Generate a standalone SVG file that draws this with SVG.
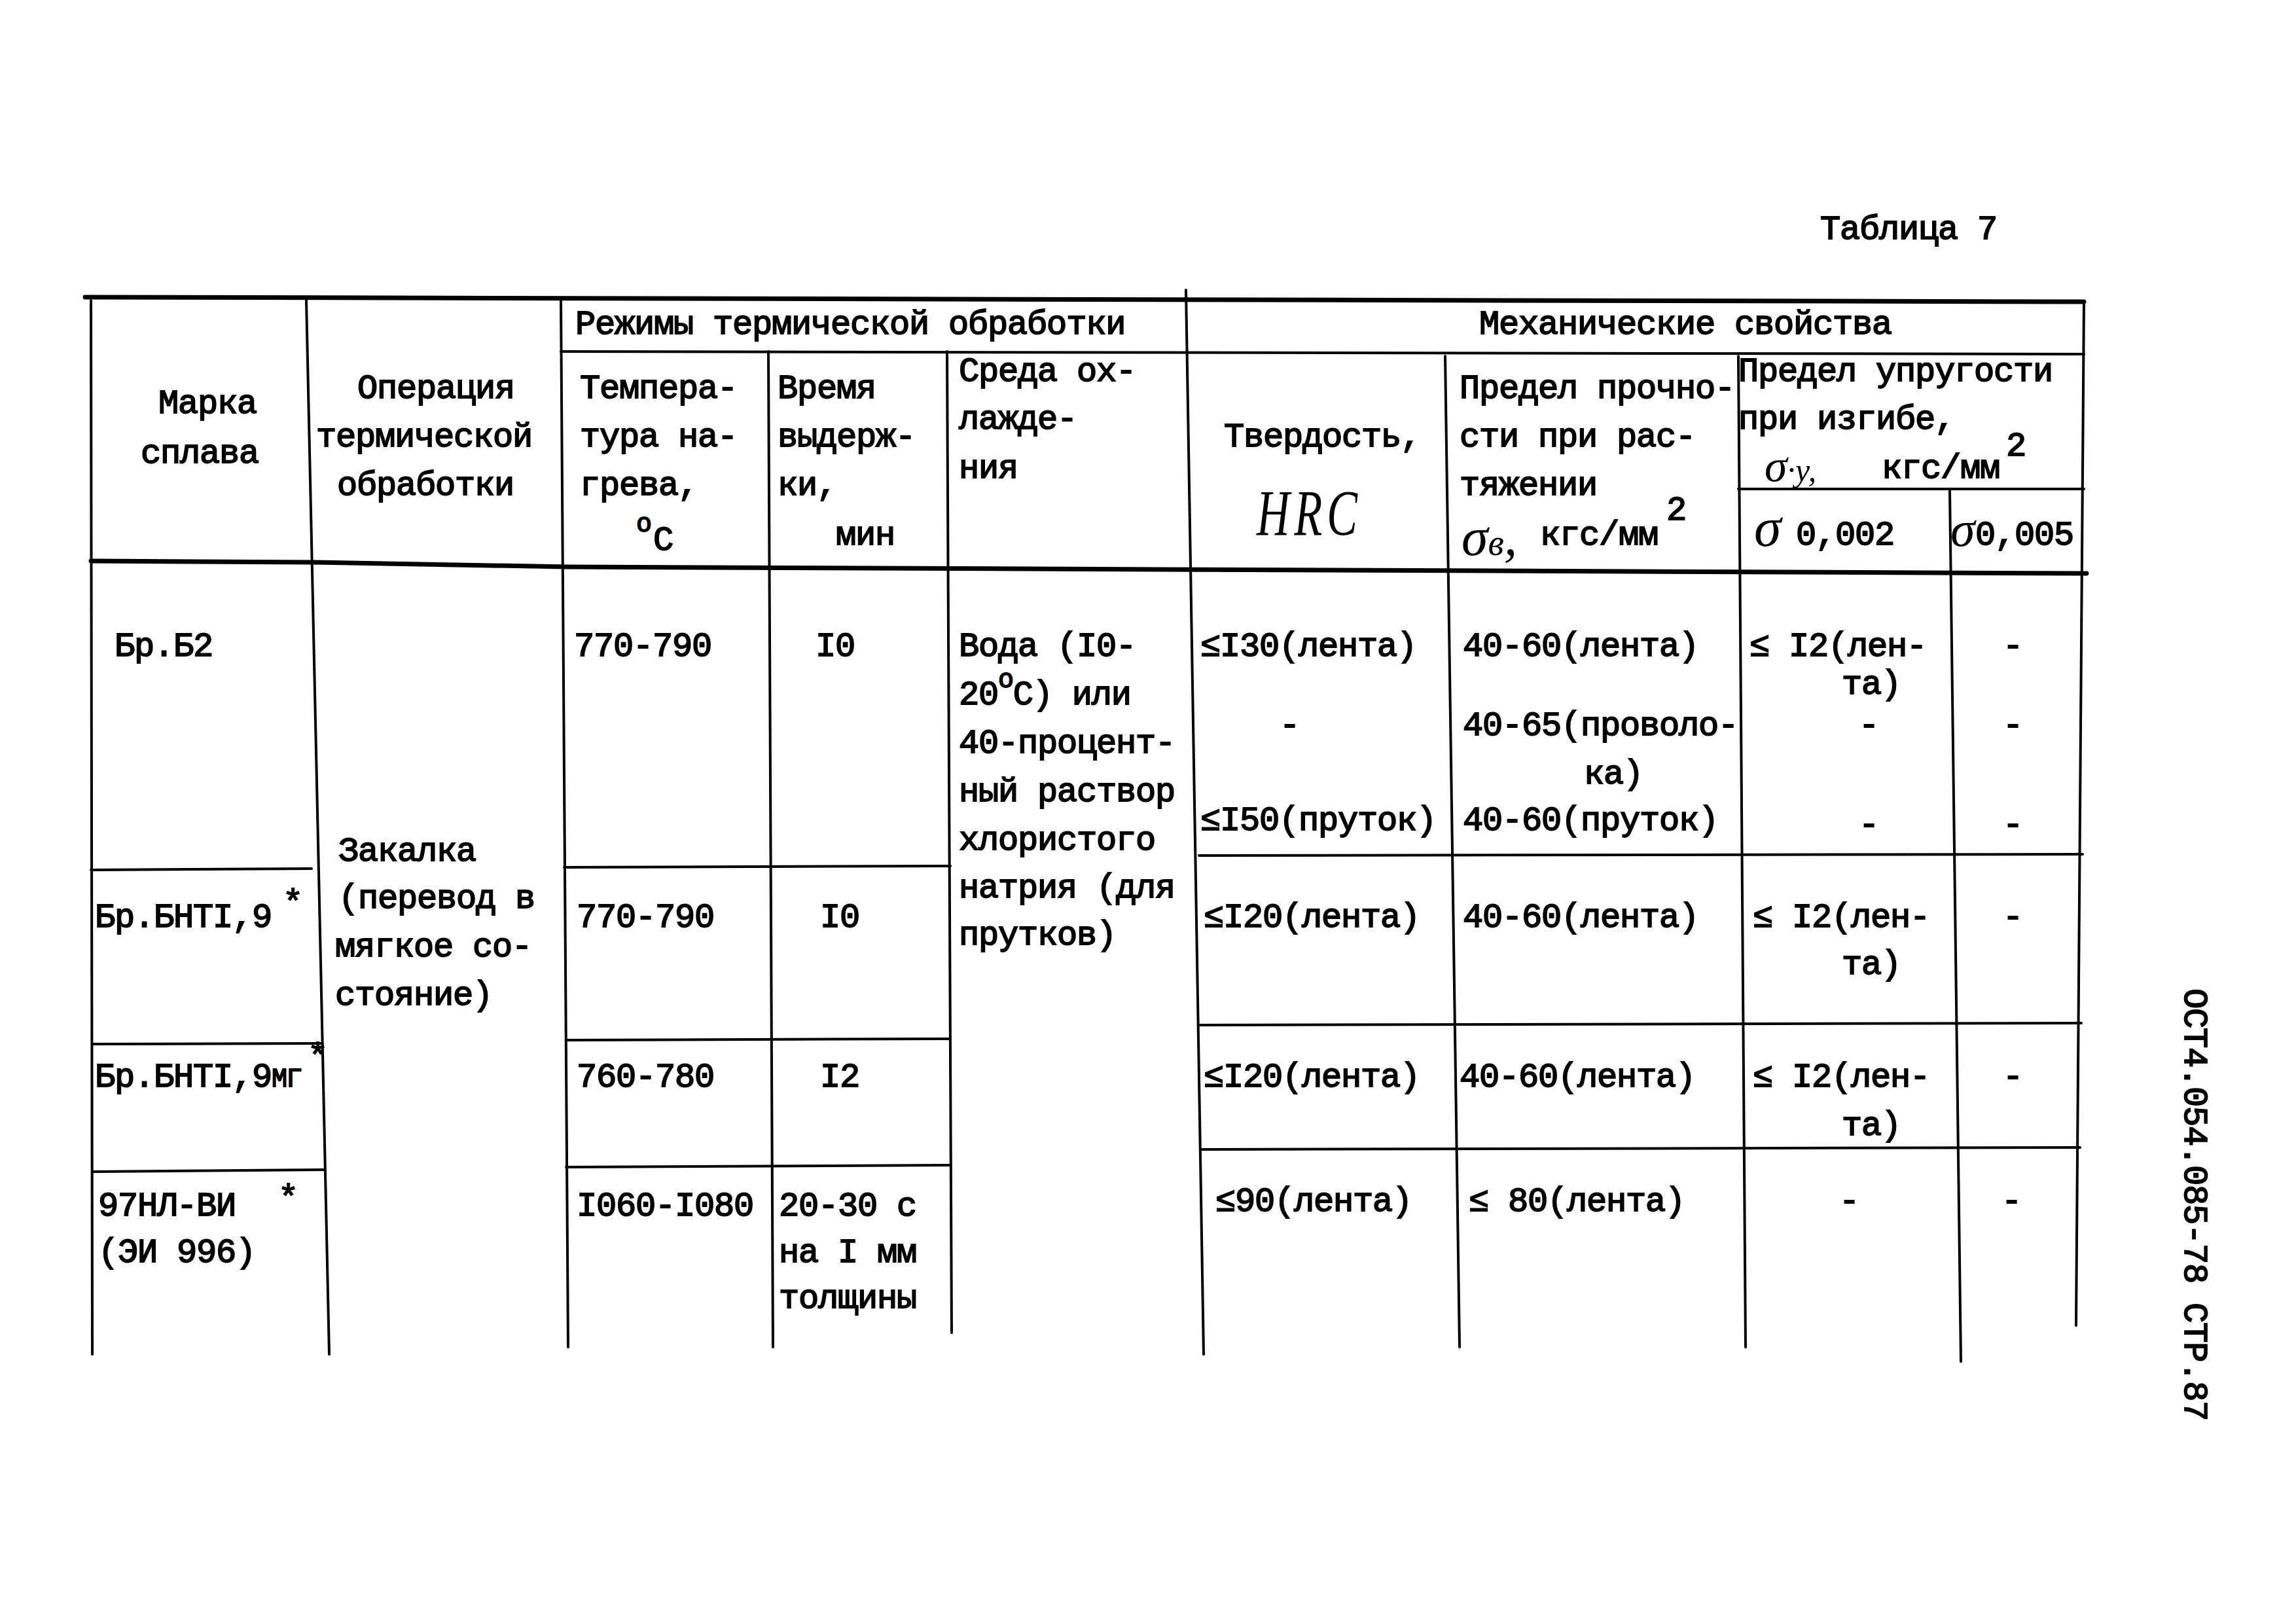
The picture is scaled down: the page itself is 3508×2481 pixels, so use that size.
<svg xmlns="http://www.w3.org/2000/svg" width="3508" height="2481" viewBox="0 0 3508 2481">
<style>
.t{font-family:"Liberation Mono","DejaVu Sans Mono",monospace;font-size:52px;letter-spacing:-1.2px;fill:#000;stroke:#000;stroke-width:1.8}
.sm{font-size:40px}
.hw{font-family:"Liberation Serif","DejaVu Serif",serif;font-style:italic;fill:#000}
.ln{stroke:#000;stroke-width:4;fill:none;stroke-linecap:round}
.tk{stroke:#000;stroke-width:7;fill:none;stroke-linecap:round}
</style>
<rect width="3508" height="2481" fill="#fff"/>
<text class="t" x="2781" y="365">Таблица 7</text>
<text class="t" transform="translate(3338,1510) rotate(90)">ОСТ4.054.085-78  СТР.87</text>

<g id="grid">
<path class="tk" d="M130,454 L3184,461"/>
<path class="tk" d="M139,857 L476,859 L868,866 L3188,876"/>
<path class="ln" d="M139,459 L141,2069"/>
<path class="ln" d="M468,459 L503,2069"/>
<path class="ln" d="M857,459 L868,2058"/>
<path class="ln" d="M1174,537 L1181,2058"/>
<path class="ln" d="M1447,537 L1454,2036"/>
<path class="ln" d="M1812,443 L1839,2069"/>
<path class="ln" d="M2208,544 L2230,2058"/>
<path class="ln" d="M2656,544 L2667,2058"/>
<path class="ln" d="M2979,750 L2996,2080"/>
<path class="ln" d="M3184,461 L3172,2025"/>
<path class="ln" d="M857,537 L3184,541"/>
<path class="ln" d="M2656,747 L3184,747"/>
<path class="ln" d="M139,1329 L476,1327"/>
<path class="ln" d="M862,1325 L1452,1323"/>
<path class="ln" d="M1832,1307 L3182,1305"/>
<path class="ln" d="M141,1595 L490,1594"/>
<path class="ln" d="M865,1589 L1452,1587"/>
<path class="ln" d="M1834,1566 L3180,1563"/>
<path class="ln" d="M141,1790 L495,1787"/>
<path class="ln" d="M865,1783 L1452,1780"/>
<path class="ln" d="M1836,1756 L3178,1753"/>
</g>

<g id="header">
<text class="t" x="879" y="510">Режимы термической обработки</text>
<text class="t" x="2260" y="510">Механические свойства</text>
<text class="t" x="242" y="631">Марка</text>
<text class="t" x="215" y="707">сплава</text>
<text class="t" x="546" y="608">Операция</text>
<text class="t" x="483" y="682">термической</text>
<text class="t" x="515" y="756">обработки</text>
<text class="t" x="886" y="608">Темпера-</text>
<text class="t" x="886" y="682">тура на-</text>
<text class="t" x="886" y="756">грева,</text>
<text class="t sm" x="972" y="812">o</text>
<text class="t" x="998" y="840">C</text>
<text class="t" x="1188" y="608">Время</text>
<text class="t" x="1188" y="682">выдерж-</text>
<text class="t" x="1188" y="756">ки,</text>
<text class="t" x="1277" y="832">мин</text>
<text class="t" x="1465" y="582">Среда ох-</text>
<text class="t" x="1465" y="655">лажде-</text>
<text class="t" x="1465" y="730">ния</text>
<text class="t" x="1870" y="682">Твердость,</text>
<text class="hw" x="1920" y="817" font-size="100" transform="translate(1920,817) scale(0.7,1) translate(-1920,-817)" letter-spacing="10">HRC</text>
<text class="t" x="2230" y="608">Предел прочно-</text>
<text class="t" x="2230" y="682">сти при рас-</text>
<text class="t" x="2230" y="756">тяжении</text>
<text class="hw" x="2233" y="848" font-size="82">σ<tspan font-size="56">в</tspan>,</text>
<text class="t" x="2353" y="832">кгс/мм</text>
<text class="t" x="2546" y="794">2</text>
<text class="t" x="2656" y="582">Предел упругости</text>
<text class="t" x="2656" y="655">при изгибе,</text>
<text class="hw" x="2696" y="735" font-size="70">σ<tspan font-size="50">·у,</tspan></text>
<text class="t" x="2875" y="730">кгс/мм</text>
<text class="t" x="3065" y="696">2</text>
<text class="hw" x="2680" y="834" font-size="84">σ</text>
<text class="t" x="2744" y="832">0,002</text>
<text class="hw" x="2980" y="834" font-size="76">σ</text>
<text class="t" x="3018" y="832">0,005</text>
</g>

<g id="row1">
<text class="t" x="175" y="1002">Бр.Б2</text>
<text class="t" x="877" y="1002">770-790</text>
<text class="t" x="1246" y="1002">I0</text>
<text class="t" x="1834" y="1002">≤I30(лента)</text>
<text class="t" x="2235" y="1002">40-60(лента)</text>
<text class="t" x="2673" y="1002">≤ I2(лен-</text>
<text class="t" x="2814" y="1060">та)</text>
<text class="t" x="3060" y="1002">-</text>
<text class="t" x="1955" y="1123">-</text>
<text class="t" x="2235" y="1123">40-65(проволо-</text>
<text class="t" x="2420" y="1197">ка)</text>
<text class="t" x="2840" y="1123">-</text>
<text class="t" x="3060" y="1123">-</text>
<text class="t" x="1834" y="1268">≤I50(пруток)</text>
<text class="t" x="2235" y="1268">40-60(пруток)</text>
<text class="t" x="2840" y="1275">-</text>
<text class="t" x="3060" y="1275">-</text>
</g>

<g id="medium">
<text class="t" x="1465" y="1002">Вода (I0-</text>
<text class="t" x="1465" y="1076">20<tspan class="sm" dy="-26">o</tspan><tspan dy="26">C) или</tspan></text>
<text class="t" x="1465" y="1150">40-процент-</text>
<text class="t" x="1465" y="1224">ный раствор</text>
<text class="t" x="1465" y="1298">хлористого</text>
<text class="t" x="1465" y="1371">натрия (для</text>
<text class="t" x="1465" y="1443">прутков)</text>
</g>

<g id="operation">
<text class="t" x="517" y="1315">Закалка</text>
<text class="t" x="517" y="1387">(перевод в</text>
<text class="t" x="512" y="1461">мягкое со-</text>
<text class="t" x="512" y="1535">стояние)</text>
</g>

<g id="row2">
<text class="t" x="145" y="1416">Бр.БНТI,9</text>
<text class="t" x="432" y="1395">*</text>
<text class="t" x="881" y="1416">770-790</text>
<text class="t" x="1253" y="1416">I0</text>
<text class="t" x="1839" y="1416">≤I20(лента)</text>
<text class="t" x="2235" y="1416">40-60(лента)</text>
<text class="t" x="2678" y="1416">≤ I2(лен-</text>
<text class="t" x="2814" y="1488">та)</text>
<text class="t" x="3060" y="1416">-</text>
</g>

<g id="row3">
<text class="t" x="145" y="1660">Бр.БНТI,9<tspan class="sm">МГ</tspan></text>
<text class="t" x="470" y="1630">*</text>
<text class="t" x="881" y="1660">760-780</text>
<text class="t" x="1253" y="1660">I2</text>
<text class="t" x="1839" y="1660">≤I20(лента)</text>
<text class="t" x="2230" y="1660">40-60(лента)</text>
<text class="t" x="2678" y="1660">≤ I2(лен-</text>
<text class="t" x="2814" y="1734">та)</text>
<text class="t" x="3060" y="1660">-</text>
</g>

<g id="row4">
<text class="t" x="150" y="1857">97НЛ-ВИ</text>
<text class="t" x="425" y="1846">*</text>
<text class="t" x="150" y="1928">(ЭИ 996)</text>
<text class="t" x="881" y="1857">I060-I080</text>
<text class="t" x="1190" y="1857">20-30 с</text>
<text class="t" x="1190" y="1928">на I мм</text>
<text class="t" x="1190" y="1998">толщины</text>
<text class="t" x="1857" y="1850">≤90(лента)</text>
<text class="t" x="2244" y="1850">≤ 80(лента)</text>
<text class="t" x="2810" y="1850">-</text>
<text class="t" x="3058" y="1850">-</text>
</g>
</svg>
